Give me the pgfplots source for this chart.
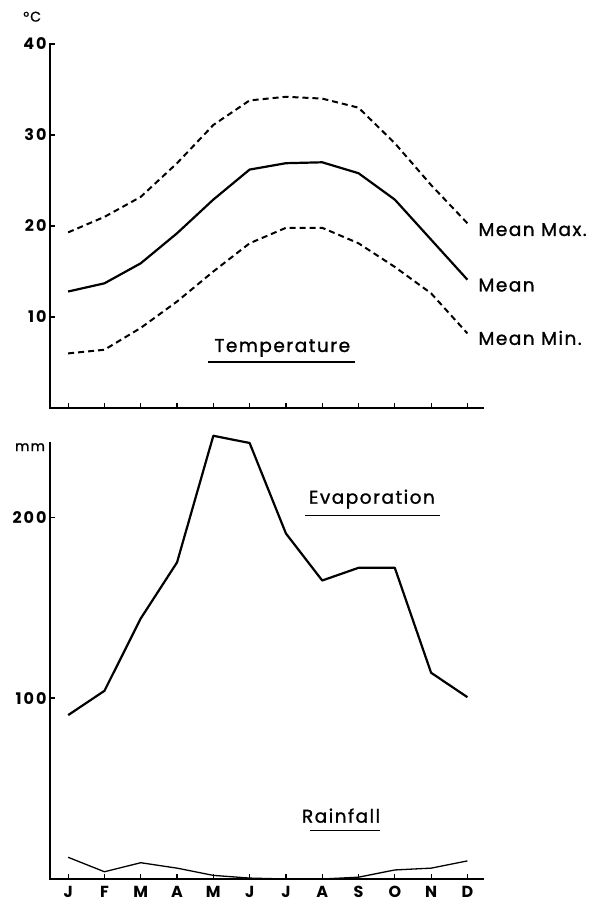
\documentclass[border=0pt]{standalone}
\usepackage{fontspec}
\setmainfont{Poppins}
\newfontfamily\labfont{Poppins}[LetterSpace=8, FakeBold=1.2]
\newfontfamily\tickfont{Poppins}[LetterSpace=12]
\usepackage{pgfplots}
\pgfplotsset{compat=1.18}

\pgfplotsset{
  climax/.style={
    scale only axis,
    width=433pt,
    xmin=-0.5, xmax=11.43,
    axis lines*=left,
    axis line style={line width=2.6pt, line cap=rect},
    xtick={0,...,11},
    tick align=inside,
    major tick length=5pt,
    tick style={line width=1.2pt, black},
    clip=false,
    font=\labfont\fontsize{18.5}{21}\selectfont,
    every tick label/.append style={font=\tickfont\fontsize{16}{18}\selectfont\bfseries},
    /pgf/number format/assume math mode=true,
  },
  meanline/.style={black, line width=2.2pt, line join=round},
  extline/.style={black, line width=2pt, dash pattern=on 6pt off 4pt},
}

\begin{document}
\begin{tikzpicture}
\path (0pt,0pt) rectangle (595pt,910pt);

% temperature
\begin{axis}[climax,
  at={(50pt,502pt)}, anchor=south west,
  height=364pt,
  ymin=0, ymax=40,
  ytick={10,20,30,40},
  xticklabels={},
]
\addplot[extline] coordinates {
  (0,19.3) (1,21.0) (2,23.2) (3,26.9) (4,31.1) (5,33.8)
  (6,34.2) (7,34.0) (8,33.0) (9,29.1) (10,24.5) (11,20.3)
};
\addplot[meanline] coordinates {
  (0,12.8) (1,13.7) (2,15.9) (3,19.2) (4,22.9) (5,26.2)
  (6,26.9) (7,27.0) (8,25.8) (9,22.9) (10,18.5) (11,14.1)
};
\addplot[extline] coordinates {
  (0,6.0) (1,6.4) (2,8.8) (3,11.7) (4,15.0) (5,18.1)
  (6,19.8) (7,19.8) (8,18.1) (9,15.5) (10,12.6) (11,8.2)
};
\node[anchor=west, inner sep=0pt] at (axis cs:11.3,19.6) {Mean Max.};
\node[anchor=west, inner sep=0pt] at (axis cs:11.3,13.5) {Mean};
\node[anchor=west, inner sep=0pt] at (axis cs:11.3,7.7) {Mean Min.};
\node at (axis cs:5.9,6.6) {Temperature};
\draw[line width=1.3pt] (axis cs:3.86,5.05) -- (axis cs:7.9,5.05);
\node[font=\labfont\fontsize{14}{16}\selectfont] at (axis cs:-0.99,43) {°C};
\end{axis}

% evaporation and rainfall
\begin{axis}[climax,
  at={(50pt,31pt)}, anchor=south west,
  height=436pt,
  ymin=0, ymax=241,
  ytick={100,200},
  xticklabels={J,F,M,A,M,J,J,A,S,O,N,D},
  xticklabel style={yshift=-4pt},
]
\addplot[meanline] coordinates {
  (0,90.6) (1,104) (2,144) (3,175) (4,245) (5,241)
  (6,191) (7,165) (8,172) (9,172) (10,114) (11,100.5)
};
\addplot[black, line width=1.3pt] coordinates {
  (0,12) (1,4) (2,9) (3,6) (4,2) (5,0.5)
  (6,0) (7,0) (8,1) (9,5) (10,6) (11,10)
};
\node at (axis cs:8.37,210) {Evaporation};
\draw[line width=1.3pt] (axis cs:6.53,201) -- (axis cs:10.25,201);
\node at (axis cs:7.52,35) {Rainfall};
\draw[line width=1.3pt] (axis cs:6.67,27) -- (axis cs:8.6,27);
\node[font=\labfont\fontsize{14}{16}\selectfont] at (axis cs:-1.05,238.7) {mm};
\end{axis}
\end{tikzpicture}
\end{document}
